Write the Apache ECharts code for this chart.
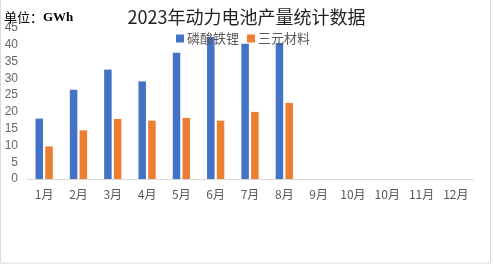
<!DOCTYPE html>
<html>
<head>
<meta charset="utf-8">
<script src="https://cdn.jsdelivr.net/npm/echarts@6/dist/echarts.min.js"></script>
<style>html,body{margin:0;padding:0;background:#fff}#c{width:493px;height:266px}</style>
</head>
<body>
<div id="c"></div>
<script>
var categories = ['1月','2月','3月','4月','5月','6月','7月','8月','9月','10月','10月','11月','12月'];
var lfp = [18, 26.6, 32.6, 29.1, 37.6, 42.3, 40.3, 40.5, null, null, null, null, null];
var ncm = [9.7, 14.5, 17.9, 17.4, 18.2, 17.4, 20.0, 22.7, null, null, null, null, null];
var seriesNames = ['磷酸铁锂', '三元材料'];
var yTicks = {min: 0, max: 45, interval: 5};

var chart = echarts.init(document.getElementById('c'));
chart.setOption({
  animation: false,
  backgroundColor: '#fff',
  title: {
    text: '2023年动力电池产量统计数据',
    left: 'center', top: 3,
    textStyle: {fontSize: 18, fontWeight: 'normal', color: '#222', fontFamily: 'Noto Sans CJK SC'}
  },
  graphic: [
    {type: 'text', left: 4, top: 11, style: {
      text: '{a|单位：}{b|GWh}',
      rich: {
        a: {fontSize: 13, fill: '#000', fontFamily: 'Noto Sans CJK SC'},
        b: {fontSize: 13, fill: '#000', fontFamily: 'Liberation Serif', fontWeight: 'bold'}
      }
    }},
    {type: 'rect', shape: {x: 0.5, y: -2, width: 490, height: 265}, style: {fill: 'none', stroke: '#d9d9d9', lineWidth: 1}, silent: true}
  ],
  legend: {
    data: seriesNames,
    left: 171, top: 27,
    itemWidth: 8, itemHeight: 8, itemGap: 8,
    icon: 'rect',
    textStyle: {fontSize: 13, color: '#595959', fontFamily: 'Noto Sans CJK SC', padding: [0, 0, 0, -2]}
  },
  grid: {left: 27, right: 20, top: 28, bottom: 87, containLabel: false},
  xAxis: {
    type: 'category', data: categories,
    axisLine: {lineStyle: {color: '#d9d9d9'}},
    axisTick: {show: false},
    axisLabel: {color: '#595959', fontSize: 12, margin: 9, interval: 0, fontFamily: 'Noto Sans CJK SC'}
  },
  yAxis: {
    type: 'value', min: yTicks.min, max: yTicks.max, interval: yTicks.interval,
    axisLine: {show: false}, axisTick: {show: false},
    splitLine: {show: false},
    axisLabel: {color: '#666', fontSize: 12, margin: 9, fontFamily: 'Liberation Sans'}
  },
  series: [
    {name: seriesNames[0], type: 'bar', data: lfp, itemStyle: {color: '#4472c4'}, barWidth: 7.5, barGap: '30%'},
    {name: seriesNames[1], type: 'bar', data: ncm, itemStyle: {color: '#ed7d31'}, barWidth: 7.5}
  ]
});
</script>
</body>
</html>
